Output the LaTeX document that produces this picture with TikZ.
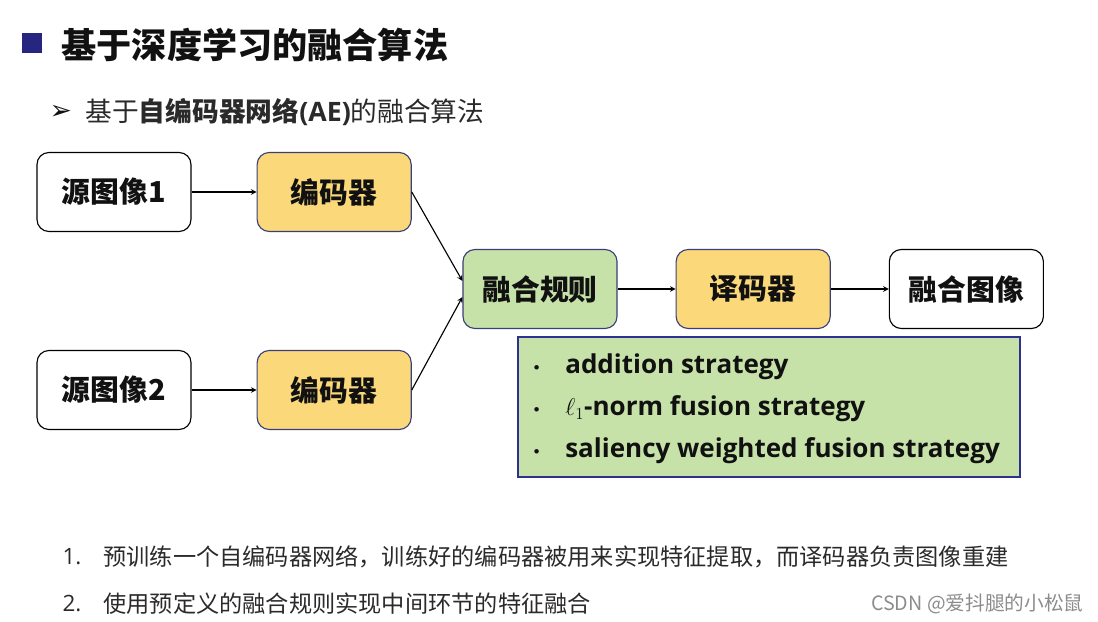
\documentclass[tikz,border=0pt]{standalone}
\usepackage{fontspec}
\setmainfont{Noto Sans CJK SC}
\newfontfamily\latinfont{Open Sans}
\newfontfamily\symbolfont{DejaVu Sans}
\usetikzlibrary{positioning}

\definecolor{titlenavy}{HTML}{262680}
\definecolor{boxnavy}{HTML}{3A3F7A}
\definecolor{stratnavy}{HTML}{2E3192}
\definecolor{encyellow}{HTML}{FBD97A}
\definecolor{rulegreen}{HTML}{C6E2A8}
\definecolor{textdark}{HTML}{111111}
\definecolor{listgray}{HTML}{2A2A2A}
\definecolor{markgray}{HTML}{8C8C8C}

\begin{document}
\begin{tikzpicture}[x=0.025cm, y=-0.025cm, thick,
    box/.style={draw, rounded corners=0.3cm, minimum width=3.85cm,
        minimum height=1.975cm, text=textdark,
        font=\fontsize{20.5}{20.5}\selectfont\bfseries},
    coder/.style={box, fill=encyellow, draw=boxnavy},
    plain/.style={anchor=west, inner sep=0pt, text=textdark}]
    \useasboundingbox (0,0) rectangle (1098,622);

    % heading
    \fill[titlenavy] (22,33) rectangle (42,53);
    \node[plain, font=\fontsize{25}{25}\selectfont\bfseries](title) at (61,45){基于深度学习的融合算法};

    \node[plain, font=\fontsize{19}{19}\selectfont\symbolfont](mark) at (49,112){➢};
    \node[plain, font=\fontsize{19}{19}\selectfont, text=listgray](sub) at (85,112)
        {基于\textbf{自编码器网络{\latinfont(AE)}}的融合算法};

    % pipeline
    \node[box](src1) at (114,192){源图像1};
    \node[coder, right=1.625cm of src1](enc1){编码器};

    \node[box](src2) at (114,390){源图像2};
    \node[coder, right=1.625cm of src2](enc2){编码器};

    \node[box, fill=rulegreen, draw=boxnavy](rule) at (540,289){融合规则};
    \node[coder, right=1.45cm of rule](dec){译码器};
    \node[box, right=1.45cm of dec](fused){融合图像};

    \node[
        draw=stratnavy,
        line width=1.4pt,
        fill=rulegreen,
        minimum width=12.55cm,
        minimum height=3.475cm,
        text=textdark,
        font=\fontsize{18.5}{29.8}\selectfont\latinfont\bfseries
    ](strat) at (769,407){%
        \begin{tabular}{@{}c@{\hspace{0.6cm}}l@{\hspace{0.15cm}}}
            {\symbolfont\mdseries\fontsize{11}{11}\selectfont •} & addition strategy\\
            {\symbolfont\mdseries\fontsize{11}{11}\selectfont •} & $\ell_1$-norm fusion strategy\\
            {\symbolfont\mdseries\fontsize{11}{11}\selectfont •} & saliency weighted fusion strategy
        \end{tabular}};

    \draw [-stealth](src1)--(enc1);
    \draw [-stealth](src2)--(enc2);
    \draw [-stealth](enc1.east)--([yshift=0.2cm]rule.west);
    \draw [-stealth](enc2.east)--([yshift=-0.2cm]rule.west);
    \draw [-stealth](rule)--(dec);
    \draw [-stealth](dec)--(fused);

    % notes
    \node[plain, font=\fontsize{16}{16}\selectfont\latinfont, text=listgray](num1) at (62,557){1.};
    \node[plain, font=\fontsize{16.5}{16.5}\selectfont, text=listgray](note1) at (103,557)
        {预训练一个自编码器网络，训练好的编码器被用来实现特征提取，而译码器负责图像重建};
    \node[plain, font=\fontsize{16}{16}\selectfont\latinfont, text=listgray](num2) at (62,604){2.};
    \node[plain, font=\fontsize{16.5}{16.5}\selectfont, text=listgray](note2) at (103,604)
        {使用预定义的融合规则实现中间环节的特征融合};

    \node[anchor=east, inner sep=0pt, font=\fontsize{14}{14}\selectfont, text=markgray](credit) at (1084,604)
        {CSDN @爱抖腿的小松鼠};
\end{tikzpicture}
\end{document}
